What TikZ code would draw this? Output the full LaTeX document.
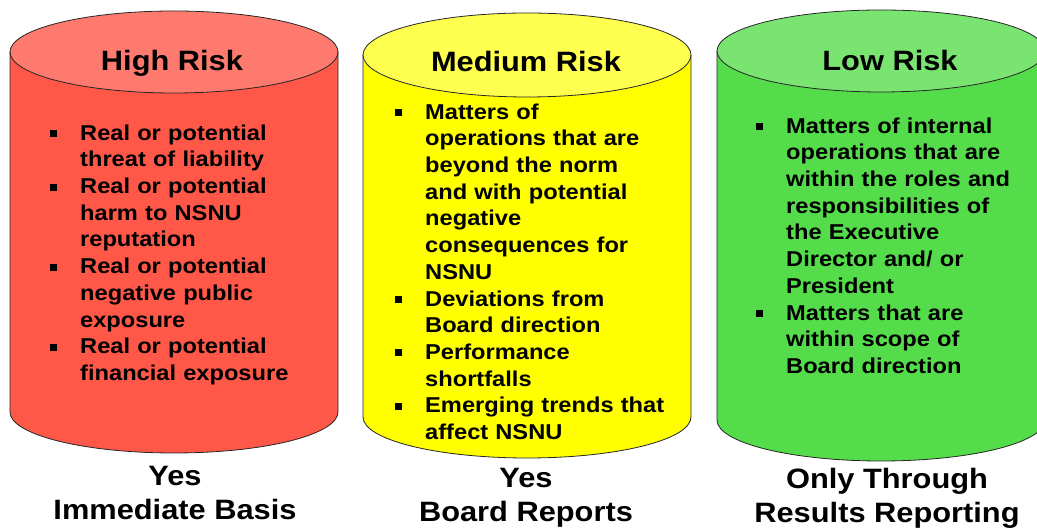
\documentclass[tikz,border=0pt]{standalone}
\usepackage{fontspec}
\setmainfont{Liberation Sans}[FakeStretch=1.1]
\usepackage{xcolor}
\usepackage{tikz}

\definecolor{highBody}{RGB}{255,88,72}
\definecolor{highTop}{RGB}{255,122,110}
\definecolor{mediumBody}{RGB}{255,255,0}
\definecolor{mediumTop}{RGB}{255,255,80}
\definecolor{lowBody}{RGB}{85,220,75}
\definecolor{lowTop}{RGB}{122,228,112}

\tikzstyle{drumBody} = [draw=black!85, line width=0.8pt]
\tikzstyle{riskTitle} = [font=\fontsize{28}{34}\selectfont\bfseries, inner sep=0pt, anchor=base]
\tikzstyle{riskList} = [font=\fontsize{21.5}{26.7}\selectfont\bfseries, inner sep=0pt,
   anchor=north west, align=left, text width=265pt]
\tikzstyle{riskFoot} = [font=\fontsize{28}{34.5}\selectfont\bfseries, inner sep=0pt,
   anchor=north, align=center]
\newcommand{\riskbul}{\leavevmode\llap{\rule[3pt]{7pt}{7pt}\hspace{23pt}}}

\begin{document}
\begin{tikzpicture}[x=1pt,y=1pt]
  \useasboundingbox (0,0) rectangle (1037,529);

  % the three drums
  \draw[drumBody, fill=highBody] (10,477) -- (10,117)
     arc[start angle=180, end angle=360, x radius=164, y radius=41] -- (338,477);
  \draw[drumBody, fill=highTop] (174,477) ellipse [x radius=164, y radius=41];

  \draw[drumBody, fill=mediumBody] (363,474) -- (363,112)
     arc[start angle=180, end angle=360, x radius=164, y radius=41] -- (691,474);
  \draw[drumBody, fill=mediumTop] (527,474) ellipse [x radius=164, y radius=42];

  \draw[drumBody, fill=lowBody] (717,478) -- (717,109)
     arc[start angle=180, end angle=360, x radius=164, y radius=41] -- (1045,478);
  \draw[drumBody, fill=lowTop] (881,478) ellipse [x radius=164, y radius=41];

  % titles
  \node[riskTitle] at (172,458)(highTitle){High Risk};
  \node[riskTitle] at (526,457)(mediumTitle){Medium Risk};
  \node[riskTitle] at (890,458)(lowTitle){Low Risk};

  % lists
  \node[riskList] at (80,407.7)(highList){\strut\riskbul Real or potential\\
    threat of liability\\
    \riskbul Real or potential\\
    harm to NSNU\\
    reputation\\
    \riskbul Real or potential\\
    negative public\\
    exposure\\
    \riskbul Real or potential\\
    financial exposure};
  \node[riskList] at (425,428.7)(mediumList){\strut\riskbul Matters of\\
    operations that are\\
    beyond the norm\\
    and with potential\\
    negative\\
    consequences for\\
    NSNU\\
    \riskbul Deviations from\\
    Board direction\\
    \riskbul Performance\\
    shortfalls\\
    \riskbul Emerging trends that\\
    affect NSNU};
  \node[riskList] at (786,414.7)(lowList){\strut\riskbul Matters of internal\\
    operations that are\\
    within the roles and\\
    responsibilities of\\
    the Executive\\
    Director and/ or\\
    President\\
    \riskbul Matters that are\\
    within scope of\\
    Board direction};

  % reporting
  \node[riskFoot] at (175,68.2)(highFoot){\strut Yes\\Immediate Basis};
  \node[riskFoot] at (526,66.2)(mediumFoot){\strut Yes\\Board Reports};
  \node[riskFoot] at (887,65.2)(lowFoot){\strut Only Through\\Results Reporting};
\end{tikzpicture}
\end{document}
